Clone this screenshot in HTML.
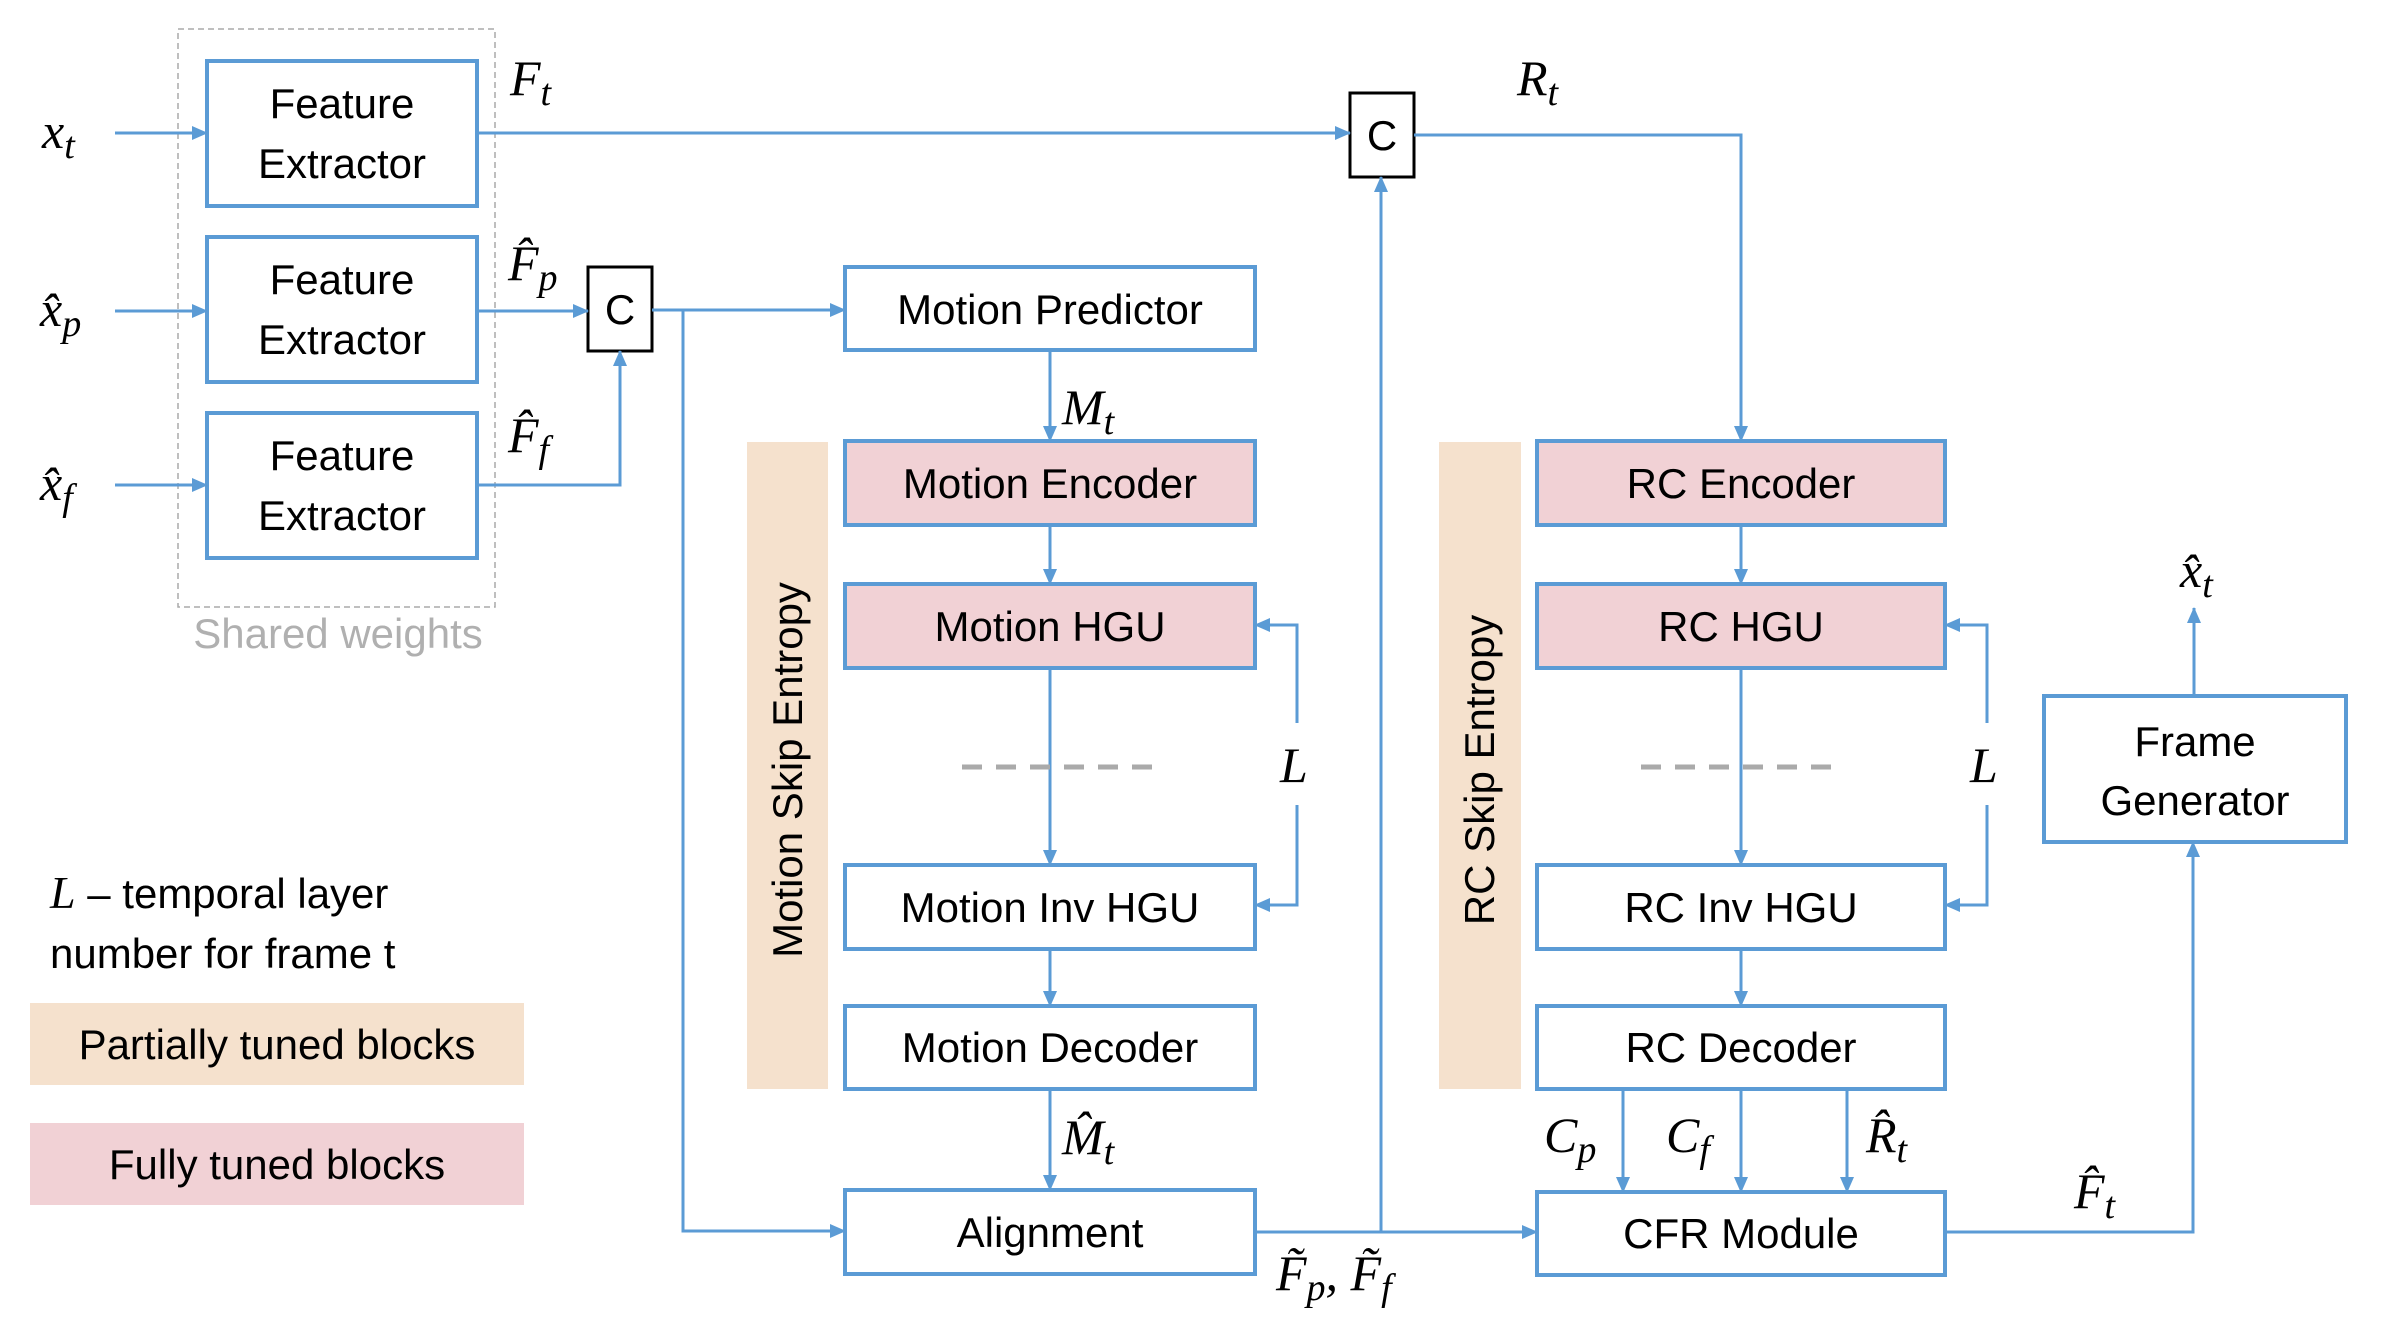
<!DOCTYPE html>
<html><head><meta charset="utf-8"><style>
html,body{margin:0;padding:0;background:#fff;}
svg{display:block;}
.t{font-family:"Liberation Sans",sans-serif;font-size:42px;fill:#000;text-anchor:middle;}
.m{font-family:"Liberation Serif",serif;font-style:italic;font-size:50px;fill:#000;}
.s{font-size:38px;}
</style></head><body>
<svg width="2392" height="1318" viewBox="0 0 2392 1318" xmlns="http://www.w3.org/2000/svg">
<defs>
<marker id="a" markerWidth="16" markerHeight="14" refX="15" refY="7" orient="auto" markerUnits="userSpaceOnUse" viewBox="0 0 16 14">
<path d="M0,0 L16,7 L0,14 z" fill="#5b9bd5"/></marker>
</defs>
<rect x="178" y="29" width="317" height="578" fill="none" stroke="#aaa" stroke-width="1.5" stroke-dasharray="6,4"/>
<rect x="747" y="442" width="81" height="647" fill="#f5e1cd"/>
<rect x="1439" y="442" width="82" height="647" fill="#f5e1cd"/>
<rect x="30" y="1003" width="494" height="82" fill="#f5e1cd"/>
<rect x="30" y="1123" width="494" height="82" fill="#f1d1d5"/>
<g stroke="#5b9bd5" stroke-width="4">
<rect x="207" y="61" width="270" height="145" fill="#fff"/>
<rect x="207" y="237" width="270" height="145" fill="#fff"/>
<rect x="207" y="413" width="270" height="145" fill="#fff"/>
<rect x="845" y="267" width="410" height="83" fill="#fff"/>
<rect x="845" y="441" width="410" height="84" fill="#f1d1d5"/>
<rect x="845" y="584" width="410" height="84" fill="#f1d1d5"/>
<rect x="845" y="865" width="410" height="84" fill="#fff"/>
<rect x="845" y="1006" width="410" height="83" fill="#fff"/>
<rect x="845" y="1190" width="410" height="84" fill="#fff"/>
<rect x="1537" y="441" width="408" height="84" fill="#f1d1d5"/>
<rect x="1537" y="584" width="408" height="84" fill="#f1d1d5"/>
<rect x="1537" y="865" width="408" height="84" fill="#fff"/>
<rect x="1537" y="1006" width="408" height="83" fill="#fff"/>
<rect x="1537" y="1192" width="408" height="83" fill="#fff"/>
<rect x="2044" y="696" width="302" height="146" fill="#fff"/>
</g>
<g stroke="#000" stroke-width="3" fill="#fff">
<rect x="588" y="267" width="64" height="84"/>
<rect x="1350" y="93" width="64" height="84"/>
</g>
<g fill="none" stroke="#5b9bd5" stroke-width="3" marker-end="url(#a)">
<path d="M115,133 H207"/>
<path d="M115,311 H207"/>
<path d="M115,485 H207"/>
<path d="M477,133 H1350"/>
<path d="M477,311 H588"/>
<path d="M477,485 H620 V351"/>
<path d="M652,310 H845"/>
<path d="M683,310 V1231 H845"/>
<path d="M1050,350 V441"/>
<path d="M1050,525 V584"/>
<path d="M1050,668 V865"/>
<path d="M1050,949 V1006"/>
<path d="M1050,1089 V1190"/>
<path d="M1297,723 V625 H1255"/>
<path d="M1297,805 V905 H1255"/>
<path d="M1414,135 H1741 V441"/>
<path d="M1741,525 V584"/>
<path d="M1741,668 V865"/>
<path d="M1741,949 V1006"/>
<path d="M1623,1089 V1192"/>
<path d="M1741,1089 V1192"/>
<path d="M1847,1089 V1192"/>
<path d="M1987,723 V625 H1945"/>
<path d="M1987,805 V905 H1945"/>
<path d="M1255,1232 H1537"/>
<path d="M1381,1232 V177"/>
<path d="M1945,1232 H2193 V842"/>
<path d="M2194,696 V608"/>
</g>
<g stroke="#aaa" stroke-width="5" stroke-dasharray="20,14">
<path d="M962,767 H1163"/>
<path d="M1641,767 H1842"/>
</g>
<g class="t">
<text x="342" y="118">Feature</text><text x="342" y="178">Extractor</text>
<text x="342" y="294">Feature</text><text x="342" y="354">Extractor</text>
<text x="342" y="470">Feature</text><text x="342" y="530">Extractor</text>
<text x="620" y="324">C</text>
<text x="1382" y="150">C</text>
<text x="1050" y="324">Motion Predictor</text>
<text x="1050" y="498">Motion Encoder</text>
<text x="1050" y="641">Motion HGU</text>
<text x="1050" y="922">Motion Inv HGU</text>
<text x="1050" y="1062">Motion Decoder</text>
<text x="1050" y="1247">Alignment</text>
<text x="1741" y="498">RC Encoder</text>
<text x="1741" y="641">RC HGU</text>
<text x="1741" y="922">RC Inv HGU</text>
<text x="1741" y="1062">RC Decoder</text>
<text x="1741" y="1248">CFR Module</text>
<text x="2195" y="756">Frame</text><text x="2195" y="815">Generator</text>
<text x="338" y="648" style="fill:#b0b0b0">Shared weights</text>
<text x="277" y="1059">Partially tuned blocks</text>
<text x="277" y="1179">Fully tuned blocks</text>
<text transform="translate(802,770) rotate(-90)">Motion Skip Entropy</text>
<text transform="translate(1494,770) rotate(-90)">RC Skip Entropy</text>
</g>
<text x="50" y="908" class="t" style="text-anchor:start"><tspan class="m" style="font-size:46px">L</tspan> – temporal layer</text>
<text x="50" y="968" class="t" style="text-anchor:start">number for frame t</text>
<g class="m">
<text x="42" y="148">x<tspan class="s" dy="10">t</tspan></text>
<text x="40" y="326">x̂<tspan class="s" dy="10">p</tspan></text>
<text x="40" y="500">x̂<tspan class="s" dy="10">f</tspan></text>
<text x="510" y="95">F<tspan class="s" dy="10">t</tspan></text>
<text x="508" y="280">F̂<tspan class="s" dy="10">p</tspan></text>
<text x="508" y="452">F̂<tspan class="s" dy="10">f</tspan></text>
<text x="1062" y="424">M<tspan class="s" dy="10">t</tspan></text>
<text x="1062" y="1154">M̂<tspan class="s" dy="10">t</tspan></text>
<text x="1517" y="95">R<tspan class="s" dy="10">t</tspan></text>
<text x="1280" y="782">L</text>
<text x="1970" y="782">L</text>
<text x="1544" y="1152">C<tspan class="s" dy="10">p</tspan></text>
<text x="1666" y="1152">C<tspan class="s" dy="10">f</tspan></text>
<text x="1866" y="1152">R̂<tspan class="s" dy="10">t</tspan></text>
<text x="2074" y="1208">F̂<tspan class="s" dy="10">t</tspan></text>
<text x="2180" y="587">x̂<tspan class="s" dy="10">t</tspan></text>
<text x="1276" y="1290">F̃<tspan class="s" dy="10">p</tspan><tspan dy="-10">, F̃</tspan><tspan class="s" dy="10">f</tspan></text>
</g>
</svg>
</body></html>
